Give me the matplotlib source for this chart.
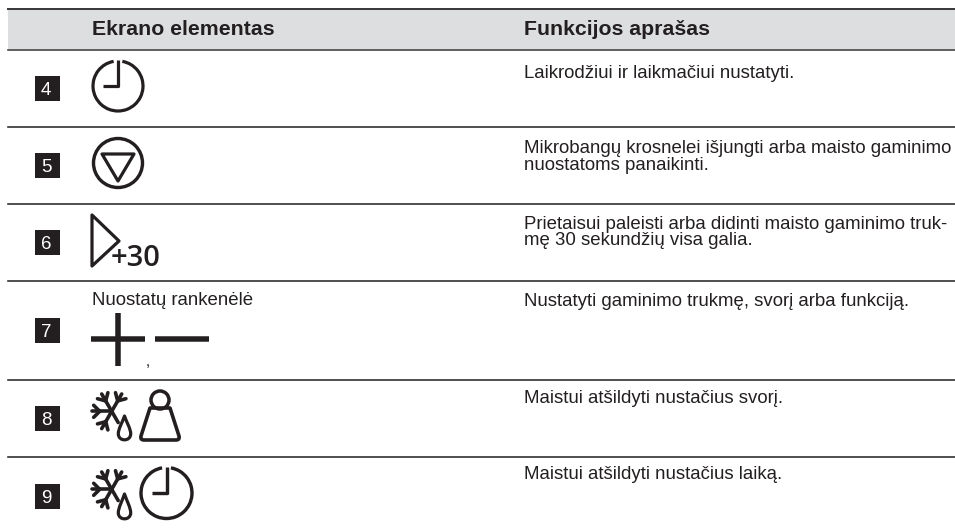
import numpy as np
import matplotlib
matplotlib.use("Agg")
import matplotlib.pyplot as plt
from matplotlib.patches import Rectangle, Circle, Arc, PathPatch, Polygon
from matplotlib.path import Path

plt.rcParams['font.family'] = ['Liberation Sans', 'DejaVu Sans']

# table content
headers = ["Ekrano elementas", "Funkcijos aprašas"]
row_numbers = ["4", "5", "6", "7", "8", "9"]
descriptions = [
    ["Laikrodžiui ir laikmačiui nustatyti."],
    ["Mikrobangų krosnelei išjungti arba maisto gaminimo", "nuostatoms panaikinti."],
    ["Prietaisui paleisti arba didinti maisto gaminimo truk-", "mę 30 sekundžių visa galia."],
    ["Nustatyti gaminimo trukmę, svorį arba funkciją."],
    ["Maistui atšildyti nustačius svorį."],
    ["Maistui atšildyti nustačius laiką."],
]
knob_label = "Nuostatų rankenėlė"
plus_label = "+30"

# layout in image pixels
row_lines = [127, 204, 281, 380, 457]
box_tops = [76, 153, 230, 318, 406, 484]
desc_baselines = [[78], [153, 170], [229, 245], [306], [403], [479]]

DARK = "#231f20"

fig = plt.figure(figsize=(9.55, 5.29), dpi=100)
ax = fig.add_axes([0, 0, 1, 1])
ax.set_xlim(0, 955)
ax.set_ylim(529, 0)
ax.axis("off")


def px(w):
    return w * 72 / 100


def stroke(xs, ys, w=3, cap="butt"):
    ax.plot(xs, ys, color=DARK, lw=px(w), solid_capstyle=cap, solid_joinstyle="round")


def clock(cx, cy, r, w, hand):
    # y axis is inverted so the arc angles run clockwise from the right
    ax.add_patch(Arc((cx, cy), 2 * r, 2 * r, theta1=-80, theta2=260, color=DARK, lw=px(w)))
    stroke([cx - hand, cx, cx], [cy, cy, cy - r - 1], w)


def snowflake(cx, cy):
    for ang in [180, 120, 60, 240]:
        a = np.radians(ang)
        ux, uy = np.cos(a), -np.sin(a)
        stroke([cx, cx + 20 * ux], [cy, cy + 20 * uy], 3.6, "round")
        fx, fy = cx + 12 * ux, cy + 12 * uy
        for da in [-45, 45]:
            b = np.radians(ang + da)
            stroke([fx, fx + 8.5 * np.cos(b)], [fy, fy - 8.5 * np.sin(b)], 3.6, "round")
    a = np.radians(-60)
    stroke([cx, cx + 13 * np.cos(a)], [cy, cy - 13 * np.sin(a)], 3.6, "round")


def drop(cx, top, bottom):
    r = 6.2
    mid = bottom - r
    verts = [(cx, top), (cx - 2, top + 6), (cx - r, mid - 5), (cx - r, mid),
             (cx - r, mid + r * 1.3), (cx + r, mid + r * 1.3), (cx + r, mid),
             (cx + r, mid - 5), (cx + 2, top + 6), (cx, top), (cx, top)]
    codes = [Path.MOVETO] + [Path.CURVE4] * 9 + [Path.CLOSEPOLY]
    ax.add_patch(PathPatch(Path(verts, codes), fc="none", ec=DARK, lw=px(3.2), joinstyle="round"))


def weight_body(left, right, top_left, top_right, top, bottom):
    verts = [(top_left, top), (top_right, top), (right - 1, bottom - 4), (right, bottom),
             (right - 4, bottom), (left + 4, bottom), (left, bottom), (left + 1, bottom - 4),
             (top_left, top), (top_left, top)]
    codes = [Path.MOVETO, Path.LINETO, Path.LINETO, Path.CURVE3, Path.CURVE3, Path.LINETO,
             Path.CURVE3, Path.CURVE3, Path.LINETO, Path.CLOSEPOLY]
    ax.add_patch(PathPatch(Path(verts, codes), fc="none", ec=DARK, lw=px(3.6), joinstyle="round"))


# header band and rules
ax.add_patch(Rectangle((8, 9), 947, 40, fc="#dcdee0", ec="none"))
ax.plot([8, 955], [9, 9], color="#3c3a3b", lw=px(2))
ax.plot([8, 955], [49.5, 49.5], color="#3c3a3b", lw=px(1.6))
for y in row_lines:
    ax.plot([8, 955], [y, y], color="#2c2a2b", lw=px(1.6))

ax.text(92, 35, headers[0], fontsize=15.3, fontweight="bold", color=DARK, va="baseline")
ax.text(524, 35, headers[1], fontsize=15.3, fontweight="bold", color=DARK, va="baseline")

# number boxes
for num, top in zip(row_numbers, box_tops):
    ax.add_patch(Rectangle((35, top), 25, 25, fc=DARK, ec="none"))
    ax.text(46, top + 19, num, fontsize=13.5, color="white", ha="center", va="baseline")

# descriptions
for lines, bases in zip(descriptions, desc_baselines):
    for line, y in zip(lines, bases):
        ax.text(524, y, line, fontsize=13.45, color=DARK, va="baseline")

# row 4
clock(118, 86, 25, 3.2, 15)

# row 5
ax.add_patch(Circle((118, 163), 24.5, fc="none", ec=DARK, lw=px(3.4)))
ax.add_patch(Polygon([(102, 154), (134, 154), (118, 181)], closed=True, fc="none", ec=DARK,
                     lw=px(3.2), joinstyle="round"))

# row 6
ax.add_patch(Polygon([(92, 215), (119, 241), (92, 266)], closed=True, fc="none", ec=DARK,
                     lw=px(3.2), joinstyle="round"))
ax.text(111, 266, plus_label, fontsize=21, fontweight="semibold", family="Open Sans",
        color=DARK, va="baseline")

# row 7
ax.text(92, 305, knob_label, fontsize=13.45, color=DARK, va="baseline")
stroke([91, 145], [339, 339], 5.5)
stroke([118, 118], [313, 366], 5.5)
stroke([155, 209], [339, 339], 5.5)
ax.text(145.5, 366, ",", fontsize=11, color=DARK, va="baseline")

# row 8
snowflake(111.7, 411.3)
drop(124.5, 416, 440)
ax.add_patch(Circle((160, 400), 9, fc="none", ec=DARK, lw=px(3.5)))
weight_body(140, 180, 150, 170, 408, 440)

# row 9
snowflake(111.7, 489.3)
drop(124.5, 494, 519)
clock(166.5, 493, 25.5, 3.4, 15)

fig.savefig("out.png", dpi=100)
